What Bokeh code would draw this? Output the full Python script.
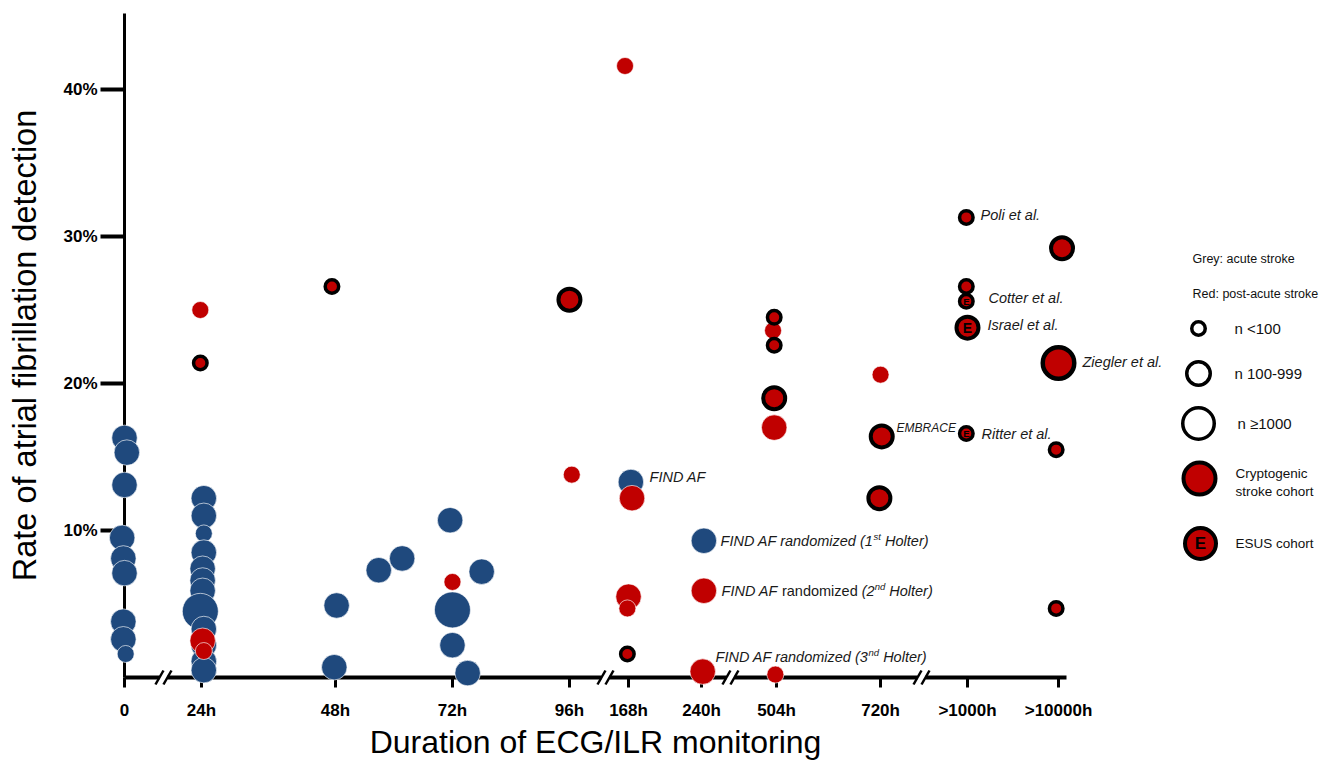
from bokeh.plotting import figure
from bokeh.models import ColumnDataSource, FixedTicker, Range1d
from bokeh.core.properties import value
from bokeh.embed import file_html
from bokeh.resources import INLINE

# ---------------- data ----------------
durations = ["0", "24h", "48h", "72h", "96h", "168h", "240h", "504h", "720h", ">1000h", ">10000h"]
# position of each duration tick on the (broken) x axis, in axis units
duration_pos = [0.0, 0.658, 1.803, 2.803, 3.803, 4.308, 4.932, 5.573, 6.462, 7.205, 7.983]
axis_end = 8.05
axis_breaks = [0.333, 4.111, 5.179, 6.812]
y_ticks = [10, 20, 30, 40]
y_tick_labels = ["10%", "20%", "30%", "40%"]
y_axis_top = 45.2

# acute stroke studies (blue)
acute_dur = [0, 0, 0, 0, 0, 0, 0, 0, 0,
             1, 1, 1, 1, 1, 1, 1, 1, 1, 1, 1, 1,
             2, 2, 2, 2,
             3, 3, 3, 3, 3,
             5, 6]
acute_jit = [0, .02, 0, -.02, -.01, 0, -.01, -.01, .01,
             .02, .02, .02, .02, .01, .01, .01, -.01, .02, .02, .02, .02,
             .01, -.01, .37, .57,
             -.02, 0, 0, .25, .13,
             .02, .02]
acute_rate = [16.3, 15.3, 13.1, 9.5, 8.1, 7.1, 3.8, 2.6, 1.6,
              12.2, 11.0, 9.8, 8.5, 7.4, 6.6, 5.9, 4.5, 3.3, 2.2, 1.1, 0.5,
              4.9, 0.7, 7.3, 8.1,
              10.7, 4.6, 2.2, 7.2, 0.3,
              13.3, 9.3]
acute_n = ["M", "M", "M", "M", "M", "M", "M", "M", "S",
           "M", "M", "S", "M", "M", "M", "M", "L", "M", "M", "M", "M",
           "M", "M", "M", "M",
           "M", "L", "M", "M", "M",
           "M", "M"]

# post-acute stroke studies, unselected cohorts (red)
post_dur = [1, 1, 1, 3, 4, 5, 5, 5, 5, 6, 6, 7, 7, 7, 8]
post_jit = [-.01, .01, .02, 0, .02, -.03, .03, 0, -.01, .02, .01, -.01, -.03, -.02, 0]
post_rate = [25.0, 2.5, 1.8, 6.5, 13.8, 41.6, 12.2, 5.5, 4.7, 5.9, 0.4, 0.2, 23.6, 17.0, 20.6]
post_n = ["S", "M", "S", "S", "S", "S", "M", "M", "S", "M", "M", "S", "S", "M", "S"]

# cryptogenic stroke cohorts (red, black outline)
crypto_dur = [1, 2, 4, 5, 7, 7, 7, 8, 8, 9, 9, 10, 10, 10, 10]
crypto_jit = [-.01, -.03, 0, -.01, -.02, -.02, -.02, .01, -.01, -.01, -.01, .03, 0, -.02, -.02]
crypto_rate = [21.4, 26.6, 25.7, 1.6, 24.5, 22.6, 19.0, 16.4, 12.2, 31.3, 26.6, 29.2, 21.4, 15.5, 4.7]
crypto_n = ["S", "S", "M", "S", "S", "S", "M", "M", "M", "S", "S", "M", "L", "S", "S"]

# ESUS cohorts
esus_dur = [9, 9, 9]
esus_jit = [-.01, 0, -.01]
esus_rate = [25.6, 23.8, 16.6]
esus_n = ["S", "M", "S"]

# ---------------- layout ----------------
W, H = 1334, 760
X0, SX = 124, 117.0     # px of x=0, px per axis unit
Y0, SY = 677, 14.7      # px of y=0, px per percent

BLUE = "#1F497D"
RED = "#C00000"
FONT = "Liberation Sans"

def px_x(page_x):
    return (page_x - X0) / SX

def px_y(page_y):
    return (Y0 - page_y) / SY

p = figure(width=W, height=H, output_backend="svg", toolbar_location=None, tools="",
           x_range=Range1d(-X0 / SX, (W - X0) / SX),
           y_range=Range1d(-(H - Y0) / SY, Y0 / SY),
           min_border=0)
p.min_border_left = p.min_border_right = p.min_border_top = p.min_border_bottom = 0
p.outline_line_color = None
p.grid.visible = False
p.background_fill_color = "white"
p.border_fill_color = "white"

xa = p.xaxis[0]
xa.fixed_location = 0
xa.bounds = (0, axis_end)
xa.ticker = FixedTicker(ticks=duration_pos)
xa.major_label_overrides = dict(zip(duration_pos, durations))
xa.axis_line_width = 4
xa.axis_line_color = "black"
xa.major_tick_line_width = 3
xa.major_tick_out = 10
xa.major_tick_in = 0
xa.minor_tick_out = 0
xa.minor_tick_in = 0
xa.major_label_text_font = FONT
xa.major_label_text_font_size = "17px"
xa.major_label_text_font_style = "bold"
xa.major_label_text_color = "black"
xa.major_label_standoff = 13
xa.axis_label = "Duration of ECG/ILR monitoring"
xa.axis_label_text_font = FONT
xa.axis_label_text_font_size = "32px"
xa.axis_label_text_font_style = "normal"
xa.axis_label_text_color = "black"
xa.axis_label_standoff = 1

ya = p.yaxis[0]
ya.fixed_location = 0
ya.bounds = (0, y_axis_top)
ya.ticker = FixedTicker(ticks=y_ticks)
ya.major_label_overrides = dict(zip(y_ticks, y_tick_labels))
ya.axis_line_width = 3
ya.axis_line_color = "black"
ya.major_tick_line_width = 4
ya.major_tick_out = 24
ya.major_tick_in = 0
ya.minor_tick_out = 0
ya.minor_tick_in = 0
ya.major_label_text_font = FONT
ya.major_label_text_font_size = "17px"
ya.major_label_text_font_style = "bold"
ya.major_label_text_color = "black"
ya.major_label_standoff = 3
ya.axis_label = "Rate of atrial fibrillation detection"
ya.axis_label_text_font = FONT
ya.axis_label_text_font_size = "32.5px"
ya.axis_label_text_font_style = "normal"
ya.axis_label_text_color = "black"
ya.axis_label_standoff = 17

# axis breaks: white gap + two slashes
p.rect(x=axis_breaks, y=[0] * len(axis_breaks), width=8, height=12,
       width_units="screen", height_units="screen",
       fill_color="white", line_color=None, level="overlay")
for d in (-4, 4):
    p.segment(x0=[b + (d - 4) / SX for b in axis_breaks], y0=[-7 / SY] * len(axis_breaks),
              x1=[b + (d + 4) / SX for b in axis_breaks], y1=[7 / SY] * len(axis_breaks),
              line_color="black", line_width=2.5, level="overlay")

PLAIN_SIZE = {"S": 17, "M": 25.5, "L": 36}
OUT_SIZE = {"S": (13.5, 3.5), "M": (22, 4), "L": (31.5, 4.5)}

def xs(durs, jits):
    return [duration_pos[d] + j for d, j in zip(durs, jits)]

def plain(durs, jits, rates, ns, color):
    src = ColumnDataSource(dict(x=xs(durs, jits), y=rates, s=[PLAIN_SIZE[n] for n in ns]))
    p.scatter("x", "y", size="s", source=src, fill_color=color, line_color="white",
              line_width=0.8, line_alpha=0.8, level="overlay")

def outlined(durs, jits, rates, ns):
    src = ColumnDataSource(dict(x=xs(durs, jits), y=rates,
                                s=[OUT_SIZE[n][0] for n in ns], lw=[OUT_SIZE[n][1] for n in ns]))
    p.scatter("x", "y", size="s", source=src, fill_color=RED, line_color="black",
              line_width="lw", level="overlay")

plain(acute_dur, acute_jit, acute_rate, acute_n, BLUE)
plain(post_dur, post_jit, post_rate, post_n, RED)
outlined(crypto_dur, crypto_jit, crypto_rate, crypto_n)
outlined(esus_dur, esus_jit, esus_rate, esus_n)
E_SIZE = {"S": "9.5px", "M": "14px", "L": "18px"}
for x, y, n in zip(xs(esus_dur, esus_jit), esus_rate, esus_n):
    p.text(x=[x], y=[y], text=["E"], text_font=value(FONT), text_font_style="bold",
           text_font_size=E_SIZE[n], text_align="center", text_baseline="middle",
           text_color="black", level="overlay")

# study labels: (anchor duration, anchor rate, dx px, dy px, pieces)
# piece: (text, style, font size px, x shift px, y shift px)
labels = [
    (9, 31.3, 13, -2, [("Poli et al.", "italic", 14.5, 0, 0)]),
    (9, 25.6, 21, -3, [("Cotter et al.", "italic", 14.5, 0, 0)]),
    (9, 23.8, 20, -3, [("Israel et al.", "italic", 14.5, 0, 0)]),
    (10, 21.4, 24, -1, [("Ziegler et al.", "italic", 14.5, 0, 0)]),
    (8, 16.4, 16, -8, [("EMBRACE", "italic", 12, 0, 0)]),
    (9, 16.6, 14, 1, [("Ritter et al.", "italic", 14.5, 0, 0)]),
    (5, 13.3, 21, -5, [("FIND AF", "italic", 14.5, 0, 0)]),
    (6, 9.3, 19, 0, [("FIND AF randomized (1", "italic", 14.5, 0, 0),
                     ("st", "italic", 9.5, 153, -4),
                     ("Holter)", "italic", 14.5, 164.5, 0)]),
    (6, 5.9, 20, 0, [("FIND AF", "italic", 14.5, 0, 0),
                     ("randomized", "normal", 14.5, 60.4, 0),
                     ("(2", "italic", 14.5, 140.2, 0),
                     ("nd", "italic", 9.5, 153.1, -4),
                     ("Holter)", "italic", 14.5, 167.7, 0)]),
    (6, 0.4, 14, -15, [("FIND AF randomized (3", "italic", 14.5, 0, 0),
                       ("nd", "italic", 9.5, 153, -4),
                       ("Holter)", "italic", 14.5, 167.6, 0)]),
]
for dur, rate, dx, dy, pieces in labels:
    bx = duration_pos[dur] + dx / SX
    by = rate - dy / SY
    for txt, style, fs, sx_, sy_ in pieces:
        p.text(x=[bx + sx_ / SX], y=[by - sy_ / SY], text=[txt], text_font=value(FONT),
               text_font_style=style, text_font_size=f"{fs}px", text_align="left",
               text_baseline="middle", text_color="#1a1a1a", level="overlay")

# ---------------- legend ----------------
def ltext(page_x, page_y, txt, fs):
    p.text(x=[px_x(page_x)], y=[px_y(page_y)], text=[txt], text_font=value(FONT),
           text_font_size=f"{fs}px", text_align="left", text_baseline="middle",
           text_color="#111111", level="overlay")

ltext(1192, 258, "Grey: acute stroke", 12.5)
ltext(1192, 293, "Red: post-acute stroke", 12.5)
for (cx, cy, s, lw, fill) in [(1198, 328, 13.5, 3.5, "white"), (1198, 373, 23.5, 3.5, "white"),
                              (1198, 423, 31.5, 3.5, "white"), (1199, 478, 32, 4, RED),
                              (1200, 543, 31, 4, RED)]:
    p.scatter(x=[px_x(cx)], y=[px_y(cy)], size=s, fill_color=fill, line_color="black",
              line_width=lw, level="overlay")
p.text(x=[px_x(1200)], y=[px_y(543)], text=["E"], text_font=value(FONT), text_font_style="bold",
       text_font_size="17px", text_align="center", text_baseline="middle", text_color="black",
       level="overlay")
ltext(1234, 328, "n <100", 15)
ltext(1234, 373, "n 100-999", 15)
ltext(1237, 423, "n \u22651000", 15)
ltext(1235, 473, "Cryptogenic", 13.5)
ltext(1235, 491, "stroke cohort", 13.5)
ltext(1235, 543, "ESUS cohort", 13.5)

open("out.html", "w").write(file_html(p, INLINE))
